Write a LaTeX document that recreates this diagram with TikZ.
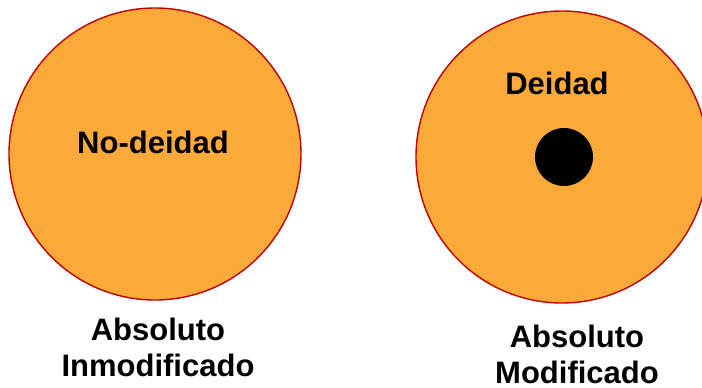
\documentclass[tikz,border=0pt]{standalone}
\usepackage{fontspec}
\setmainfont{Liberation Sans}
\usepackage{tikz}
\usetikzlibrary{positioning,calc}

\definecolor{ballfill}{HTML}{FBAA3A}
\definecolor{ballrim}{HTML}{C00000}

\begin{document}
\begin{tikzpicture}[
  x=1pt, y=-1pt,
  ball/.style={circle, draw=ballrim, line width=1.4pt, fill=ballfill, minimum size=292pt, inner sep=0pt},
  core/.style={circle, fill=black, minimum size=58pt, inner sep=0pt},
  txt/.style={font=\fontsize{31}{36}\selectfont\bfseries, align=center, inner sep=0pt}
]
  \useasboundingbox (0,0) rectangle (702,388);

  % Circles
  \node[ball] (unmod) at (155,154) {};
  \node[ball] (mod) at (562,157) {};
  \node[core] (deity) at (564,157) {};

  % Texts
  \node[txt] (nodeity) at (153,142) {No-deidad};
  \node[txt] (deitytxt) at (557,83) {Deidad};
  \node[txt] (unmodtxt) at (158,347) {Absoluto\\Inmodificado};
  \node[txt] (modtxt) at (577,354) {Absoluto\\Modificado};
\end{tikzpicture}
\end{document}
